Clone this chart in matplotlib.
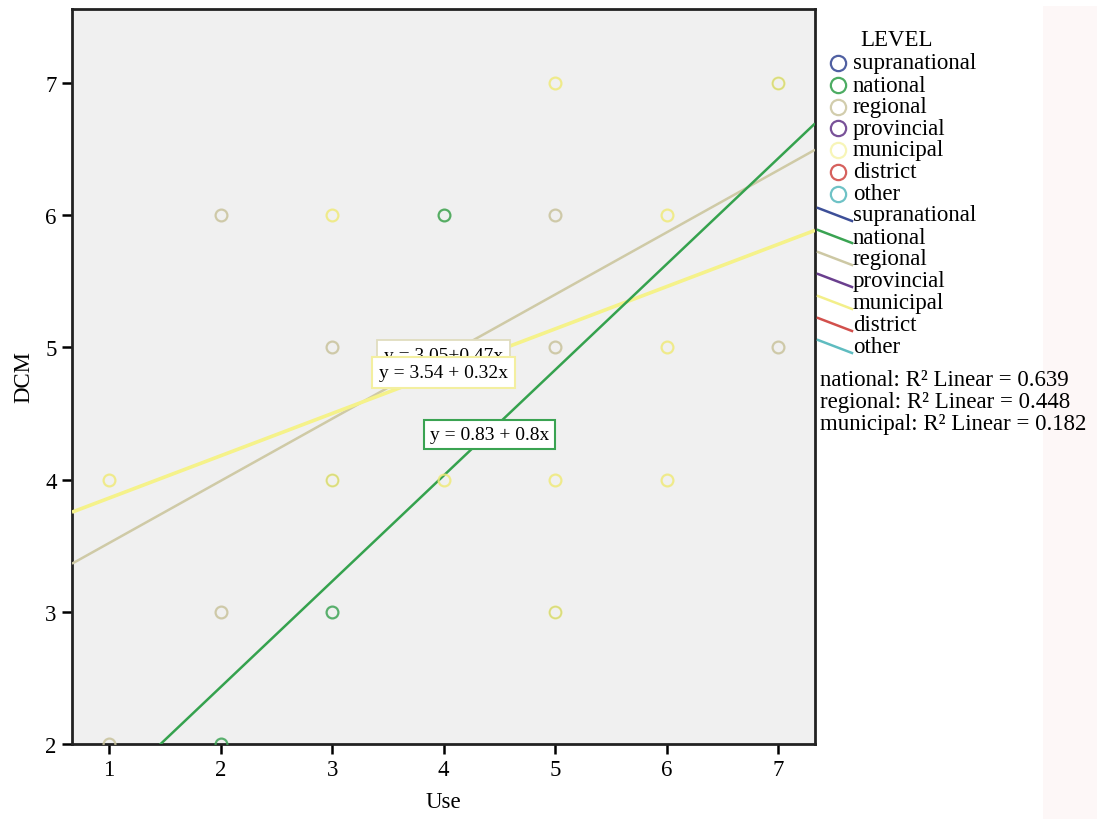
import matplotlib
matplotlib.use("Agg")
import matplotlib.pyplot as plt
from matplotlib.lines import Line2D
from matplotlib.patches import Rectangle
import numpy as np

plt.rcParams['font.family'] = ['Liberation Serif', 'DejaVu Serif']

levels = ["supranational", "national", "regional", "provincial", "municipal", "district", "other"]
level_colors = ["#3d4f98", "#3aa352", "#cdc8a4", "#6a3f8e", "#f3ef8a", "#d2504c", "#5fbcc0"]

# scatter data per level (Use, DCM)
national_x = [2, 3, 4]
national_y = [2, 3, 6]
regional_x = [1, 2, 2, 3, 5, 5, 7]
regional_y = [2, 3, 6, 5, 6, 5, 5]
municipal_x = [1, 3, 3, 4, 5, 5, 5, 6, 6, 6, 7]
municipal_y = [4, 4, 6, 4, 7, 4, 3, 6, 5, 4, 7]
overlap_x = [3, 5, 7, 4]   # points where national/regional overlap municipal
overlap_y = [4, 3, 7, 6]

# fit lines: intercept, slope, R2
fit_levels = ["national", "regional", "municipal"]
fit_intercepts = [0.83, 3.05, 3.54]
fit_slopes = [0.8, 0.47, 0.32]
fit_r2 = [0.639, 0.448, 0.182]
fit_labels = ["y = 0.83 + 0.8x", "y = 3.05+0.47x", "y = 3.54 + 0.32x"]

x_ticks = [1, 2, 3, 4, 5, 6, 7]
y_ticks = [2, 3, 4, 5, 6, 7]

fig = plt.figure(figsize=(10.97, 8.2), dpi=100)
fig.patch.set_facecolor("white")
# faint pink strip at right
fig.add_artist(Rectangle((1043/1097, 0), 54/1097, (820-7)/820, transform=fig.transFigure,
                         facecolor="#fdf7f7", edgecolor="none", zorder=0))

ax = fig.add_axes([72/1097, 75/820, (815-72)/1097, (745-10)/820])
ax.set_facecolor("#f0f0f0")
ax.set_xlim(0.668, 7.33)
ax.set_ylim(2, 7.56)

# regression lines
xl = np.array([0.668, 7.33])
line_styles = {"national": ("#35a24e", 1.8, 4), "regional": ("#cfcaa6", 1.8, 3), "municipal": ("#f5f28a", 2.6, 3.5)}
for lev, b0, b1 in zip(fit_levels, fit_intercepts, fit_slopes):
    c, lw, z = line_styles[lev]
    ax.plot(xl, b0 + b1 * xl, color=c, lw=lw, zorder=z, solid_capstyle="butt")

ms = 8.5
mew = 1.6
ax.plot(regional_x, regional_y, 'o', mfc="none", mec="#c9c39c", mew=mew, ms=ms, zorder=5, alpha=0.85)
ax.plot(municipal_x, municipal_y, 'o', mfc="none", mec="#efea7a", mew=mew, ms=ms, zorder=5, alpha=0.85)
ax.plot(overlap_x, overlap_y, 'o', mfc="none", mec="#c7d27a", mew=1.0, ms=ms, zorder=5, alpha=0.6)
ax.plot(national_x, national_y, 'o', mfc="none", mec="#3fa456", mew=mew, ms=ms, zorder=6, alpha=0.85)

# equation labels
fs_eq = 14
ax.text(4.0, 4.94, fit_labels[1], ha="center", va="center", fontsize=fs_eq, zorder=7,
        bbox=dict(boxstyle="square,pad=0.35", fc="white", ec="#e0ddbf", lw=1.3))
ax.text(4.0, 4.81, fit_labels[2], ha="center", va="center", fontsize=fs_eq, zorder=8,
        bbox=dict(boxstyle="square,pad=0.35", fc="white", ec="#f3efa0", lw=1.5))
ax.text(4.41, 4.34, fit_labels[0], ha="center", va="center", fontsize=fs_eq, zorder=8,
        bbox=dict(boxstyle="square,pad=0.3", fc="white", ec="#3aa352", lw=1.5))

for sp in ax.spines.values():
    sp.set_linewidth(2)
    sp.set_color("#222222")
ax.set_xticks(x_ticks)
ax.set_yticks(y_ticks)
ax.tick_params(direction="out", length=7, width=1.8, labelsize=16.5, pad=4, colors="black")
ax.set_xlabel("Use", fontsize=16.5, labelpad=8)
ax.set_ylabel("DCM", fontsize=16.5, labelpad=8)

# legend (manual, figure pixel coordinates)
W, H = 1097.0, 820.0
def fx(px): return px / W
def fy(py): return 1 - py / H

fs_leg = 16.5
fig.text(fx(897), fy(40), "LEVEL", ha="center", va="center", fontsize=fs_leg)
circle_rows = [64, 86, 108, 129, 151, 173, 195]
for lev, c, r in zip(levels, level_colors, circle_rows):
    fig.add_artist(Line2D([fx(838)], [fy(r)], marker='o', mfc="none", mec=c, mew=1.6, ms=11,
                          transform=fig.transFigure, alpha=0.9 if lev != "municipal" else 0.6))
    fig.text(fx(853), fy(r), lev, ha="left", va="center", fontsize=fs_leg)
line_rows = [216, 238, 260, 282, 304, 326, 348]
for lev, c, r in zip(levels, level_colors, line_rows):
    fig.add_artist(Line2D([fx(818), fx(852)], [fy(r - 7), fy(r + 6)], color=c, lw=1.8,
                          transform=fig.transFigure))
    fig.text(fx(853), fy(r), lev, ha="left", va="center", fontsize=fs_leg)

r2_rows = [381, 403, 425]
for lev, r2, r in zip(fit_levels, fit_r2, r2_rows):
    fig.text(fx(820), fy(r), f"{lev}: R² Linear = {r2:.3f}", ha="left", va="center", fontsize=fs_leg)

fig.savefig("out.png", dpi=100)
